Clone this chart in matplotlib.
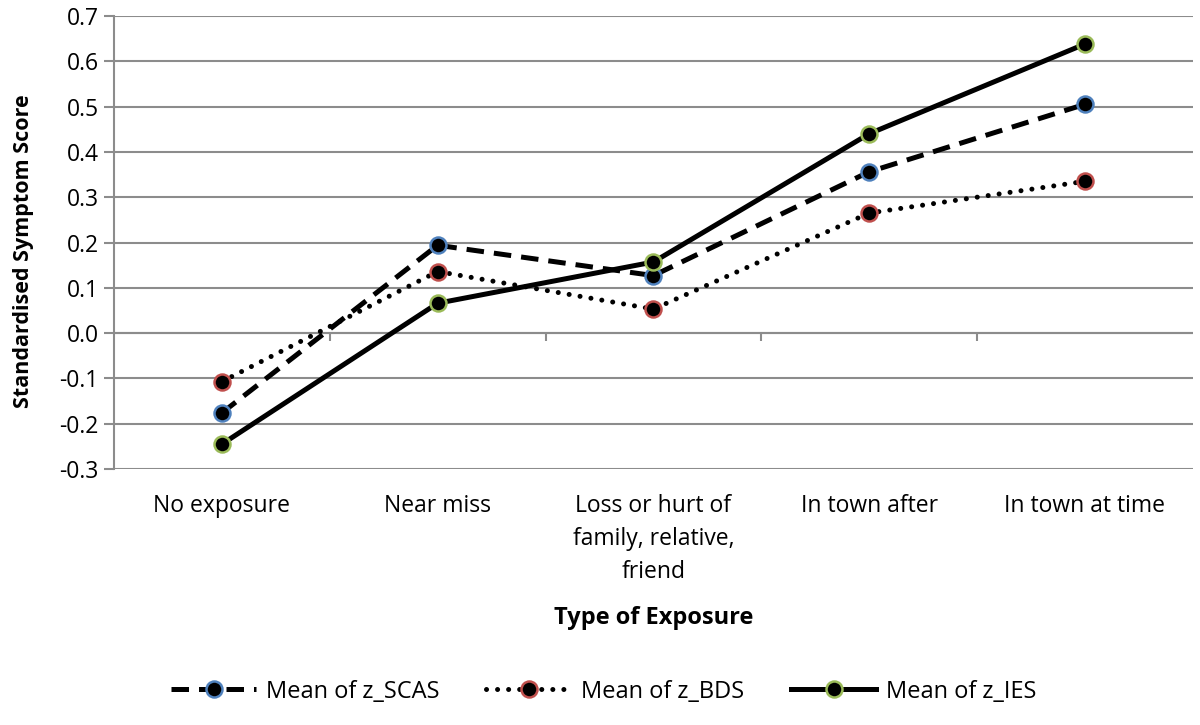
import matplotlib
matplotlib.use("Agg")
import matplotlib.pyplot as plt

categories = ["No exposure", "Near miss", "Loss or hurt of\nfamily, relative,\nfriend", "In town after", "In town at time"]
scas = [-0.176, 0.194, 0.127, 0.356, 0.505]
bds = [-0.107, 0.136, 0.053, 0.265, 0.335]
ies = [-0.245, 0.066, 0.157, 0.440, 0.638]
yticks = [-0.3, -0.2, -0.1, 0.0, 0.1, 0.2, 0.3, 0.4, 0.5, 0.6, 0.7]

plt.rcParams['font.family'] = ['Open Sans', 'DejaVu Sans']
grid_c = '#8c8c8c'

fig = plt.figure(figsize=(12, 7.25), dpi=100)
ax = fig.add_axes([0.095, 0.353, 0.899, 0.625])

x = list(range(len(categories)))
lw = 3.6
ms = 11.5
mew = 1.8
ax.plot(x, scas, color='black', lw=lw, dashes=(3.5, 2.0), marker='o', ms=ms,
        mfc='black', mec='#4F81BD', mew=mew, zorder=4, label='Mean of z_SCAS')
ax.plot(x, bds, color='black', lw=lw, dashes=(0.01, 2.2), dash_capstyle='round',
        marker='o', ms=ms, mfc='black', mec='#C0504D', mew=mew, zorder=4, label='Mean of z_BDS')
ax.plot(x, ies, color='black', lw=lw, marker='o', ms=ms,
        mfc='black', mec='#9BBB59', mew=mew, zorder=5, label='Mean of z_IES')

ax.set_xlim(-0.5, len(categories) - 0.5)
ax.set_ylim(-0.3, 0.7)
ax.set_yticks(yticks)
ax.set_yticklabels([f"{v:.1f}" for v in yticks], fontsize=16.5)
ax.yaxis.grid(True, color=grid_c, lw=1.5)
ax.set_axisbelow(True)
for s in ['top', 'right', 'bottom']:
    ax.spines[s].set_visible(False)
ax.spines['left'].set_color(grid_c)
ax.spines['left'].set_linewidth(1.5)
ax.tick_params(axis='y', color=grid_c, width=1.5, length=7, pad=4)

ax.set_xticks(x)
ax.set_xticklabels(categories, fontsize=16.5, linespacing=1.5, va='top')
ax.tick_params(axis='x', length=0, pad=18)

# horizontal axis crossing at zero with tick marks between categories
ax.axhline(0, color=grid_c, lw=1.5, zorder=1)
ax.vlines([i + 0.5 for i in range(len(categories) - 1)], -0.018, 0,
          color=grid_c, lw=1.5, zorder=1)

ax.set_ylabel("Standardised Symptom Score", fontsize=15.5, fontweight='bold')
ax.yaxis.set_label_coords(-0.074, 0.48)
ax.set_xlabel("Type of Exposure", fontsize=17, fontweight='bold', labelpad=16)

handles, labels = ax.get_legend_handles_labels()
fig.legend(handles, labels, loc='center', bbox_to_anchor=(0.503, 0.046), ncol=3,
           frameon=False, fontsize=17, handlelength=3.6, columnspacing=2.0,
           handletextpad=0.4)

fig.savefig("out.png", dpi=100)
